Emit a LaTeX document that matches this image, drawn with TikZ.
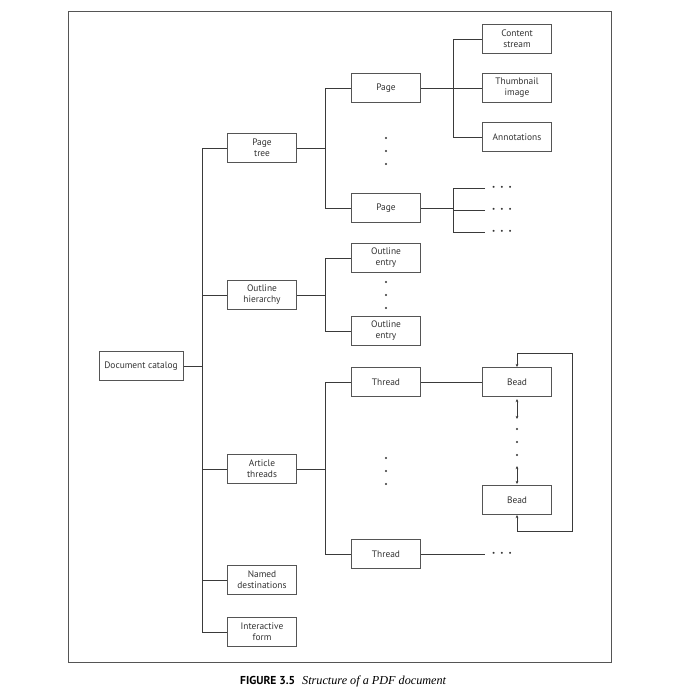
\documentclass[tikz,border=0pt]{standalone}
\usepackage{fontspec}
\setmainfont{PT Sans}
\newfontfamily\capserif{Liberation Serif}
\usetikzlibrary{arrows.meta}
\definecolor{ln}{HTML}{3A3A3A}
\definecolor{bx}{HTML}{555555}
\definecolor{tx}{HTML}{333333}
\begin{document}
\begin{tikzpicture}[x=1pt,y=-1pt,
  box/.style={draw=bx,line width=1pt,minimum width=69pt,minimum height=29pt,inner sep=0pt,
    align=center,text=tx,font=\fontsize{9.4}{11}\selectfont},
  conn/.style={draw=ln,line width=0.8pt},
  hdots/.style={inner sep=0pt,anchor=west,text=tx,font=\fontsize{7}{7}\selectfont},
  tip/.style={{Stealth[length=3.2pt,width=2.8pt]}-{Stealth[length=3.2pt,width=2.8pt]}}
]
\useasboundingbox (0,0) rectangle (693,694);
\fill[white] (0,0) rectangle (693,694);
% frame
\draw[draw=bx,line width=1pt] (68,11) rectangle (611,662);

% nodes
\node[box,minimum width=84pt] (dc) at (141,366) {Document catalog};
\node[box] (pt) at (262,148) {Page\\tree};
\node[box] (oh) at (262,295) {Outline\\hierarchy};
\node[box] (at) at (262,469) {Article\\threads};
\node[box] (nd) at (262,580) {Named\\destinations};
\node[box] (if) at (262,632) {Interactive\\form};

\node[box] (p1) at (386,88) {Page};
\node[box] (p2) at (386,208) {Page};
\node[box] (o1) at (386,258) {Outline\\entry};
\node[box] (o2) at (386,331) {Outline\\entry};
\node[box] (t1) at (386,382) {Thread};
\node[box] (t2) at (386,554) {Thread};

\node[box] (cs) at (517,39) {Content\\stream};
\node[box] (ti) at (517,88) {Thumbnail\\image};
\node[box] (an) at (517,137) {Annotations};
\node[box] (b1) at (517,382) {Bead};
\node[box] (b2) at (517,500) {Bead};

\node[hdots] (e1) at (492,188) {\textbullet\hspace{5pt}\textbullet\hspace{5pt}\textbullet};
\node[hdots] (e2) at (492,210) {\textbullet\hspace{5pt}\textbullet\hspace{5pt}\textbullet};
\node[hdots] (e3) at (492,232) {\textbullet\hspace{5pt}\textbullet\hspace{5pt}\textbullet};
\node[hdots] (e4) at (492,554) {\textbullet\hspace{5pt}\textbullet\hspace{5pt}\textbullet};

% vertical dots
\foreach \x/\y in {386/138,386/151,386/164,386/282,386/295,386/308,386/458,386/471,386/484,517/429,517/442,517/455}
  \fill[tx] (\x,\y) circle (1.1pt);

% junction columns
\coordinate (j1) at (202,0);
\coordinate (j2) at (325,0);
\coordinate (j3) at (453,0);

% level 1
\draw[conn] (dc.east) -- (dc.east -| j1);
\draw[conn] (pt.west) -- (pt.west -| j1) -- (if.west -| j1) -- (if.west);
\draw[conn] (oh.west) -- (oh.west -| j1);
\draw[conn] (at.west) -- (at.west -| j1);
\draw[conn] (nd.west) -- (nd.west -| j1);

% level 2
\draw[conn] (pt.east) -- (pt.east -| j2);
\draw[conn] (p1.west) -- (p1.west -| j2) -- (p2.west -| j2) -- (p2.west);
\draw[conn] (oh.east) -- (oh.east -| j2);
\draw[conn] (o1.west) -- (o1.west -| j2) -- (o2.west -| j2) -- (o2.west);
\draw[conn] (at.east) -- (at.east -| j2);
\draw[conn] (t1.west) -- (t1.west -| j2) -- (t2.west -| j2) -- (t2.west);

% level 3
\draw[conn] (p1.east) -- (p1.east -| j3);
\draw[conn] (cs.west) -- (cs.west -| j3) -- (an.west -| j3) -- (an.west);
\draw[conn] (ti.west) -- (ti.west -| j3);
\draw[conn] (p2.east) -- (p2.east -| j3);
\draw[conn] ([xshift=-7pt]e1.west) -- (e1.west -| j3) -- (e3.west -| j3) -- ([xshift=-7pt]e3.west);
\draw[conn] ([xshift=-7pt]e2.west) -- (e2.west -| j3);
\draw[conn] (t1.east) -- (b1.west);
\draw[conn] (t2.east) -- ([xshift=-7pt]e4.west);

% bead links
\coordinate (ba) at (517,419);
\coordinate (bb) at (517,466);
\draw[conn,tip,shorten <=2pt] (b1.south) -- (ba);
\draw[conn,tip,shorten >=1pt] (bb) -- (b2.north);
\draw[conn,tip] (b2.south) -- ++(0,16) -- ++(55,0) -- ++(0,-178) -| (b1.north);

% caption
\node[anchor=west,text=black,inner sep=0pt] (cap) at (240,681)
  {{\bfseries\fontsize{11.5}{12}\selectfont FIGURE 3.5}\hspace{7pt}{\capserif\itshape\fontsize{12.2}{13}\selectfont Structure of a PDF document}};
\end{tikzpicture}
\end{document}
